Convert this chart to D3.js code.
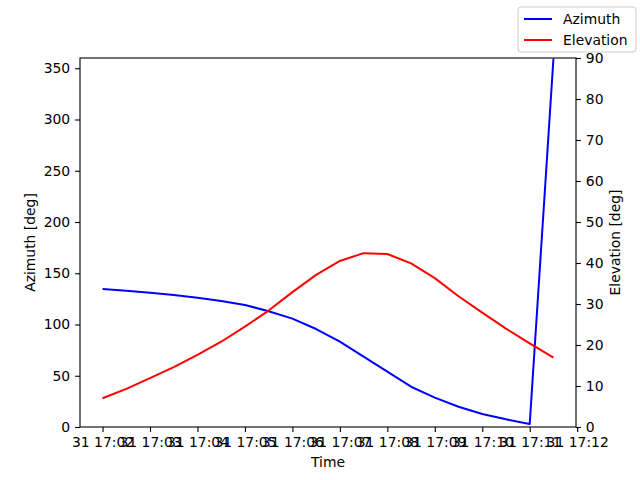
<!DOCTYPE html>
<html>
<head>
<meta charset="utf-8">
<script src="https://cdn.jsdelivr.net/npm/d3@7"></script>
<style>
  body { margin: 0; background: #fff; }
  svg { font-family: "DejaVu Sans", sans-serif; }
</style>
</head>
<body>
<script>
var width = 640;
var height = 480;
var marginLeft = 80;
var marginRight = 64;
var marginTop = 58;
var marginBottom = 53;

// samples every 30 s, starting 31st 17:02
var times = ["17:02:00", "17:02:30", "17:03:00", "17:03:30", "17:04:00", "17:04:30",
    "17:05:00", "17:05:30", "17:06:00", "17:06:30", "17:07:00", "17:07:30",
    "17:08:00", "17:08:30", "17:09:00", "17:09:30", "17:10:00", "17:10:30",
    "17:11:00", "17:11:30"];
var azimuth = [134.6, 133.0, 131.0, 128.8, 126.2, 123.0, 119.0, 113.0, 105.7, 95.6,
    83.2, 68.6, 54.0, 39.3, 28.6, 19.8, 12.7, 7.5, 2.9, 359.5];
var elevation = [7.0, 9.3, 11.9, 14.6, 17.6, 20.8, 24.5, 28.4, 32.9, 37.1,
    40.5, 42.4, 42.2, 39.9, 36.3, 31.9, 27.9, 24.0, 20.4, 16.9];
var tickTimes = ["17:02", "17:03", "17:04", "17:05", "17:06", "17:07",
    "17:08", "17:09", "17:10", "17:11", "17:12"];
var azTicks = [0, 50, 100, 150, 200, 250, 300, 350];
var elTicks = [0, 10, 20, 30, 40, 50, 60, 70, 80, 90];

var parseTime = d3.utcParse("%Y-%m-%d %H:%M:%S");
var day = "2023-05-31 ";

var data = times.map(function (t, i) {
    return { Time: parseTime(day + t), Az: azimuth[i], El: elevation[i] };
});
var tickDates = tickTimes.map(t => parseTime(day + t + ":00"));

var svg = d3.select("body").append("svg")
    .attr("width", width)
    .attr("height", height);

var plotW = width - marginLeft - marginRight;
var plotH = height - marginTop - marginBottom;

var t0 = d3.min(data, d => d.Time), t1 = d3.max(data, d => d.Time);
var pad = (t1 - t0) * 0.05;
var xScale = d3.scaleUtc().domain([new Date(+t0 - pad), new Date(+t1 + pad)]).range([marginLeft, marginLeft + plotW]);
var yAz = d3.scaleLinear().domain([0, 360]).range([marginTop + plotH, marginTop]);
var yEl = d3.scaleLinear().domain([0, 90]).range([marginTop + plotH, marginTop]);

var fontSize = "13.9px";
var tickLen = 4.9;

svg.append("clipPath").attr("id", "clip")
    .append("rect")
    .attr("x", marginLeft).attr("y", marginTop)
    .attr("width", plotW).attr("height", plotH);

var azLine = d3.line().x(d => xScale(d.Time)).y(d => yAz(d.Az));
var elLine = d3.line().x(d => xScale(d.Time)).y(d => yEl(d.El));

var plot = svg.append("g").attr("clip-path", "url(#clip)");
plot.append("path")
    .datum(data)
    .attr("fill", "none")
    .attr("stroke", "blue")
    .attr("stroke-width", 2)
    .attr("stroke-linejoin", "round")
    .attr("d", azLine);
plot.append("path")
    .datum(data)
    .attr("fill", "none")
    .attr("stroke", "red")
    .attr("stroke-width", 2)
    .attr("stroke-linejoin", "round")
    .attr("d", elLine);

// frame
svg.append("rect")
    .attr("x", marginLeft).attr("y", marginTop)
    .attr("width", plotW).attr("height", plotH)
    .attr("fill", "none")
    .attr("stroke", "black")
    .attr("stroke-width", 1.1);

function styleAxis(g) {
    g.select(".domain").remove();
    g.selectAll(".tick line").attr("stroke", "black").attr("stroke-width", 1.1);
    g.selectAll(".tick text").attr("fill", "black").style("font-size", fontSize)
        .style("font-family", "DejaVu Sans");
}

var fmt = d3.utcFormat("%d %H:%M");
svg.append("g")
    .attr("transform", "translate(0," + (marginTop + plotH) + ")")
    .call(d3.axisBottom(xScale).tickValues(tickDates).tickFormat(fmt).tickSize(tickLen).tickPadding(4.9))
    .call(styleAxis);

svg.append("g")
    .attr("transform", "translate(" + marginLeft + ",0)")
    .call(d3.axisLeft(yAz).tickValues(azTicks).tickSize(tickLen).tickPadding(4.9))
    .call(styleAxis);

svg.append("g")
    .attr("transform", "translate(" + (marginLeft + plotW) + ",0)")
    .call(d3.axisRight(yEl).tickValues(elTicks).tickSize(tickLen).tickPadding(4.9))
    .call(styleAxis);

// axis labels
svg.append("text")
    .attr("x", marginLeft + plotW / 2)
    .attr("y", 467)
    .attr("text-anchor", "middle")
    .style("font-size", fontSize)
    .text("Time");

svg.append("text")
    .attr("transform", "translate(35," + (marginTop + plotH / 2) + ") rotate(-90)")
    .attr("text-anchor", "middle")
    .style("font-size", fontSize)
    .text("Azimuth [deg]");

svg.append("text")
    .attr("transform", "translate(620," + (marginTop + plotH / 2) + ") rotate(-90)")
    .attr("text-anchor", "middle")
    .style("font-size", fontSize)
    .text("Elevation [deg]");

// legend
var legendItems = [{ name: "Azimuth", color: "blue" }, { name: "Elevation", color: "red" }];
var legend = svg.append("g").attr("transform", "translate(518,7)");
legend.append("rect")
    .attr("width", 118).attr("height", 45)
    .attr("rx", 3)
    .attr("fill", "white")
    .attr("fill-opacity", 0.8)
    .attr("stroke", "#cccccc")
    .attr("stroke-width", 1);
legendItems.forEach(function (item, i) {
    var y = 12 + i * 21;
    legend.append("line")
        .attr("x1", 6).attr("x2", 34)
        .attr("y1", y).attr("y2", y)
        .attr("stroke", item.color)
        .attr("stroke-width", 2);
    legend.append("text")
        .attr("x", 45).attr("y", y)
        .attr("dy", "0.35em")
        .style("font-size", fontSize)
        .text(item.name);
});
</script>
</body>
</html>
